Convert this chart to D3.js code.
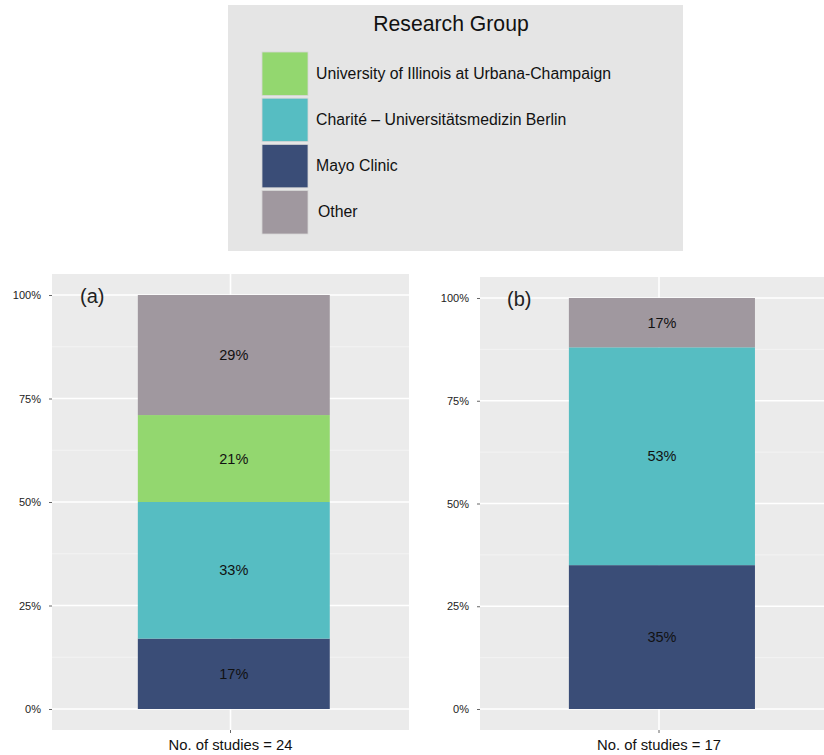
<!DOCTYPE html>
<html>
<head>
<meta charset="utf-8">
<script src="https://cdn.jsdelivr.net/npm/d3@7"></script>
<style>
  html, body { margin: 0; padding: 0; background: #ffffff; }
  svg { display: block; font-family: "Liberation Sans", Arial, Helvetica, sans-serif; }
</style>
</head>
<body>
<svg id="chart" width="824" height="755"></svg>
<script>
// Research groups (legend order) and their fill colours
const groups = [
  "University of Illinois at Urbana-Champaign",
  "Charité – Universitätsmedizin Berlin",
  "Mayo Clinic",
  "Other"
];
const groupColors = ["#93d76f", "#56bdc2", "#3a4d77", "#a0989f"];

// Stacking order, bottom to top
const stackOrder = ["Mayo Clinic", "Charité – Universitätsmedizin Berlin",
                    "University of Illinois at Urbana-Champaign", "Other"];

// Share of studies per group (percent), in stacking order
const panelAValues = [17, 33, 21, 29];
const panelBValues = [35, 53, 0, 17];

const panelLabels = ["(a)", "(b)"];
const studyCounts = ["No. of studies = 24", "No. of studies = 17"];
const yTickValues = [0, 25, 50, 75, 100];

const svg = d3.select("#chart");
const color = d3.scaleOrdinal().domain(groups).range(groupColors);

// ---------- Legend ----------
const legend = svg.append("g");
legend.append("rect")
  .attr("x", 228).attr("y", 5).attr("width", 455).attr("height", 246)
  .attr("fill", "#e5e5e5");
legend.append("text")
  .attr("x", 451).attr("y", 31)
  .attr("text-anchor", "middle")
  .attr("font-size", 21.2).attr("fill", "#111")
  .text("Research Group");

const legendY = d3.scaleBand().domain(groups).range([52, 234]).paddingInner(0.06);
const items = legend.selectAll("g.item").data(groups).join("g").attr("class", "item");
items.append("rect")
  .attr("x", 262).attr("width", 46)
  .attr("y", d => legendY(d)).attr("height", legendY.bandwidth())
  .attr("fill", d => color(d))
  .attr("stroke", "#d6d6d6").attr("stroke-width", 0.8);
items.append("text")
  .attr("x", d => d === "Other" ? 318 : 316)
  .attr("y", d => legendY(d) + legendY.bandwidth() / 2 + 5)
  .attr("font-size", 15.8).attr("fill", "#111")
  .text(d => d);

// ---------- Panels ----------
const panels = [
  { values: panelAValues, label: panelLabels[0], xlab: studyCounts[0],
    left: 52, right: 409, top: 274, bottom: 730, y0: 709, y100: 295, labelX: 80,
    outer: 0.43, align: 0.52 },
  { values: panelBValues, label: panelLabels[1], xlab: studyCounts[1],
    left: 480, right: 838, top: 277, bottom: 730, y0: 709, y100: 298, labelX: 507,
    outer: 0.462, align: 0.517 }
];

panels.forEach(p => {
  const g = svg.append("g");
  const y = d3.scaleLinear().domain([0, 100]).range([p.y0, p.y100]);
  const x = d3.scaleBand().domain([p.xlab]).range([p.left, p.right])
    .paddingInner(0).paddingOuter(p.outer).align(p.align);

  // panel background
  g.append("rect")
    .attr("x", p.left).attr("y", p.top)
    .attr("width", p.right - p.left).attr("height", p.bottom - p.top)
    .attr("fill", "#ebebeb");

  // minor grid lines
  const minor = d3.range(0, 4).map(i => 12.5 + 25 * i);
  g.selectAll("line.minor").data(minor).join("line")
    .attr("x1", p.left).attr("x2", p.right)
    .attr("y1", d => y(d)).attr("y2", d => y(d))
    .attr("stroke", "#f5f5f5").attr("stroke-width", 0.8);

  // major grid lines
  g.selectAll("line.major").data(yTickValues).join("line")
    .attr("x1", p.left).attr("x2", p.right)
    .attr("y1", d => y(d)).attr("y2", d => y(d))
    .attr("stroke", "#ffffff").attr("stroke-width", 1.6);
  const gx = (p.left + p.right) / 2;
  g.append("line")
    .attr("x1", gx).attr("x2", gx).attr("y1", p.top).attr("y2", p.bottom)
    .attr("stroke", "#ffffff").attr("stroke-width", 1.6);

  // stacked segments, held inside the 0–100% range
  let cum = 0;
  const segs = p.values.map((v, i) => {
    const lo = Math.min(cum, 100);
    cum += v;
    const hi = Math.min(cum, 100);
    return { key: stackOrder[i], value: v, lo, hi };
  }).filter(s => s.value > 0);

  const cx = x(p.xlab) + x.bandwidth() / 2;
  g.selectAll("rect.seg").data(segs).join("rect")
    .attr("x", x(p.xlab)).attr("width", x.bandwidth())
    .attr("y", d => y(d.hi)).attr("height", d => y(d.lo) - y(d.hi))
    .attr("fill", d => color(d.key));

  g.selectAll("text.seg").data(segs).join("text")
    .attr("x", cx)
    .attr("y", d => y((d.lo + d.hi) / 2) + 5)
    .attr("text-anchor", "middle")
    .attr("font-size", 14.5).attr("fill", "#111")
    .text(d => d.value + "%");

  // y axis
  const yAxis = d3.axisLeft(y).tickValues(yTickValues)
    .tickFormat(d => d + "%").tickSize(3).tickPadding(8);
  const ay = g.append("g").attr("transform", `translate(${p.left},0)`).call(yAxis);
  ay.select(".domain").remove();
  ay.selectAll(".tick line").attr("stroke", "#666");
  ay.selectAll(".tick text").attr("font-size", 11).attr("fill", "#222")
    .attr("font-family", "Liberation Sans, Arial, sans-serif");

  // x axis: single category, its label is the study count
  const xAxis = d3.axisBottom(x).tickSize(3).tickPadding(4);
  const ax = g.append("g").attr("transform", `translate(0,${p.bottom})`).call(xAxis);
  ax.select(".domain").remove();
  ax.selectAll(".tick").attr("transform", `translate(${gx},0)`);
  ax.selectAll(".tick line").attr("stroke", "#666");
  ax.selectAll(".tick text").attr("font-size", 14.8).attr("fill", "#111")
    .attr("font-family", "Liberation Sans, Arial, sans-serif")
    .attr("dy", "0.85em");

  // panel tag
  g.append("text")
    .attr("x", p.labelX).attr("y", p.y100 + 8)
    .attr("font-size", 20).attr("fill", "#222")
    .text(p.label);
});
</script>
</body>
</html>
